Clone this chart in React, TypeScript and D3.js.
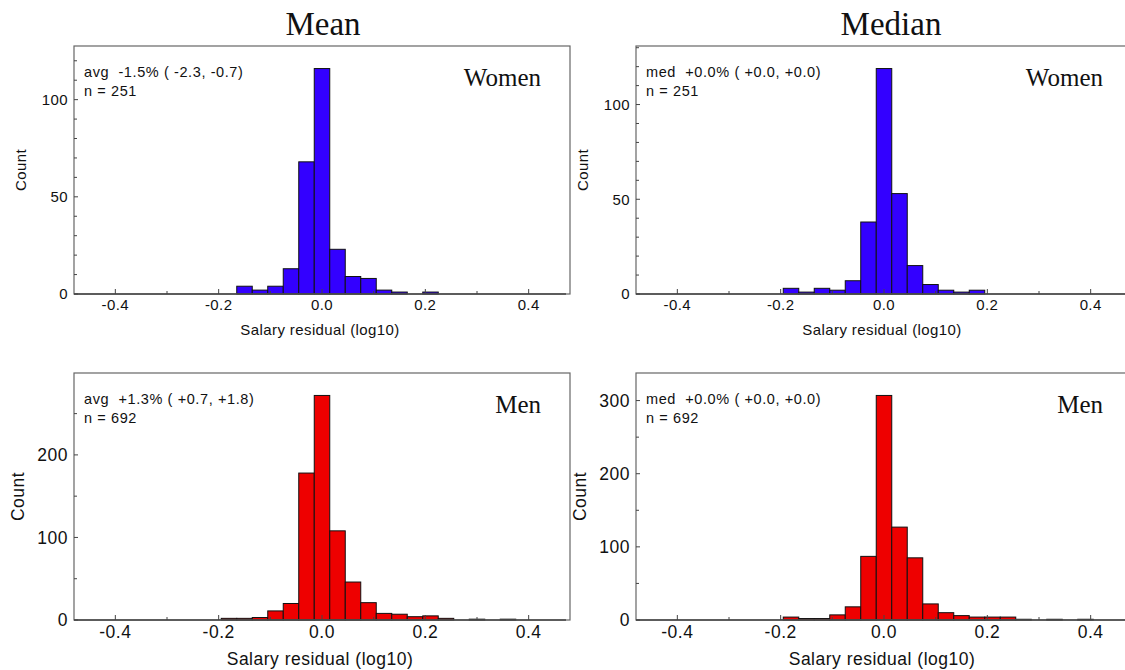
import React from "react";
import * as d3 from "d3";

// ---- data (bin width 0.03, bins centred on multiples of 0.03) ----
const binWidth = 0.03;
const womenMeanStart = -0.15;
const womenMeanCounts = [4, 2, 4, 13, 68, 116, 23, 9, 8, 2, 1, 0, 1];
const womenMedianStart = -0.18;
const womenMedianCounts = [3, 1, 3, 2, 7, 38, 119, 53, 15, 5, 2, 1, 2];
const menMeanStart = -0.18;
const menMeanCounts = [2, 2, 3, 11, 20, 178, 272, 108, 46, 21, 8, 7, 4, 5, 2, 0, 1, 0, 1];
const menMedianStart = -0.18;
const menMedianCounts = [4, 2, 2, 7, 18, 87, 307, 127, 85, 22, 10, 6, 4, 4, 4, 1, 0, 1, 0, 1];

const xTicks = [-0.4, -0.2, 0.0, 0.2, 0.4];
const xTickLabels = ["-0.4", "-0.2", "0.0", "0.2", "0.4"];
const xMinorTicks = [-0.3, -0.1, 0.1, 0.3];
const columnTitles = ["Mean", "Median"];
const groupLabels = ["Women", "Men"];
const statLines = [
  ["avg  -1.5% ( -2.3, -0.7)", "n = 251"],
  ["med  +0.0% ( +0.0, +0.0)", "n = 251"],
  ["avg  +1.3% ( +0.7, +1.8)", "n = 692"],
  ["med  +0.0% ( +0.0, +0.0)", "n = 692"],
];
const womenYTicks = [0, 50, 100];
const menYTicks = [0, 100, 200, 300];

const SANS = "'Liberation Sans', Arial, Helvetica, sans-serif";
const SERIF = "'Liberation Serif', 'Times New Roman', serif";

type PanelSpec = {
  left: number;
  top: number;
  start: number;
  counts: number[];
  color: string;
  label: string;
  stats: string[];
  yTicks: number[];
  yMinorStep: number;
  big: boolean;
};

const W = 496;

function Panel({ p }: { p: PanelSpec }) {
  const h = p.big ? 247 : 248;
  const x = d3.scaleLinear().domain([-0.48, 0.48]).range([p.left, p.left + W]);
  const ymax = (d3.max(p.counts) as number) * 1.1;
  const y = d3.scaleLinear().domain([0, ymax]).range([p.top + h, p.top]);
  const bottom = p.top + h;
  const major = p.yTicks.filter((v) => v <= ymax);
  const minor = d3.range(0, ymax, p.yMinorStep).filter((v) => !p.yTicks.includes(v));
  const tickFs = p.big ? 17.5 : 15;
  const titleFs = p.big ? 17.5 : 15;
  const ls = p.big ? 0.5 : 0.4;
  const frameColor = "#666";
  return (
    <g>
      {p.counts.map((c, i) => {
        if (c <= 0) return null;
        const c0 = p.start + i * binWidth;
        const x0 = x(c0 - binWidth / 2);
        const x1 = x(c0 + binWidth / 2);
        return (
          <rect
            key={i}
            x={x0}
            y={y(c)}
            width={x1 - x0}
            height={bottom - y(c)}
            fill={p.color}
            stroke="#111"
            strokeWidth={1}
          />
        );
      })}
      <rect x={p.left} y={p.top} width={W} height={h} fill="none" stroke={frameColor} strokeWidth={1.2} />
      <line x1={p.left} x2={p.left + W - 4} y1={bottom} y2={bottom} stroke="#444" strokeWidth={1.5} />
      {xTicks.map((t, i) => (
        <g key={"xt" + i}>
          <line x1={x(t)} x2={x(t)} y1={bottom} y2={bottom - 5} stroke="#444" />
          <text
            x={x(t)}
            y={bottom + (p.big ? 18 : 16)}
            textAnchor="middle"
            fontFamily={SANS}
            fontSize={tickFs}
            letterSpacing={ls}
            fill="#111"
          >
            {xTickLabels[i]}
          </text>
        </g>
      ))}
      {xMinorTicks.map((t, i) => (
        <line key={"xm" + i} x1={x(t)} x2={x(t)} y1={bottom} y2={bottom - 3} stroke="#444" />
      ))}
      {major.map((t, i) => (
        <g key={"yt" + i}>
          <line x1={p.left} x2={p.left + 4} y1={y(t)} y2={y(t)} stroke="#444" />
          <text
            x={p.left - 6}
            y={y(t)}
            dy="0.36em"
            textAnchor="end"
            fontFamily={SANS}
            fontSize={tickFs}
            letterSpacing={ls}
            fill="#111"
          >
            {t}
          </text>
        </g>
      ))}
      {minor.map((t, i) => (
        <line key={"ym" + i} x1={p.left} x2={p.left + 3} y1={y(t)} y2={y(t)} stroke="#444" />
      ))}
      <text
        x={p.left + W / 2 - 2}
        y={bottom + (p.big ? 45 : 41)}
        textAnchor="middle"
        fontFamily={SANS}
        fontSize={titleFs}
        letterSpacing={ls}
        fill="#111"
      >
        Salary residual (log10)
      </text>
      <text
        transform={`translate(${p.left - (p.big ? 50 : 48)},${p.top + h / 2}) rotate(-90)`}
        textAnchor="middle"
        fontFamily={SANS}
        fontSize={titleFs}
        letterSpacing={ls}
        fill="#111"
      >
        Count
      </text>
      <text x={p.left + 10} y={p.top + 31} fontFamily={SANS} fontSize={14.5} letterSpacing={0.6} fill="#111" style={{ whiteSpace: "pre" }}>
        {p.stats[0]}
      </text>
      <text x={p.left + 10} y={p.top + 50} fontFamily={SANS} fontSize={14.5} letterSpacing={0.6} fill="#111">
        {p.stats[1]}
      </text>
      <text
        x={p.left + 467}
        y={p.top + 40}
        textAnchor="end"
        fontFamily={SERIF}
        fontSize={25}
        fill="#111"
      >
        {p.label}
      </text>
    </g>
  );
}

export default function App() {
  const blue = "#3300ff";
  const red = "#ee0000";
  const panels: PanelSpec[] = [
    { left: 74, top: 46, start: womenMeanStart, counts: womenMeanCounts, color: blue, label: groupLabels[0], stats: statLines[0], yTicks: womenYTicks, yMinorStep: 10, big: false },
    { left: 636, top: 46, start: womenMedianStart, counts: womenMedianCounts, color: blue, label: groupLabels[0], stats: statLines[1], yTicks: womenYTicks, yMinorStep: 10, big: false },
    { left: 74, top: 373, start: menMeanStart, counts: menMeanCounts, color: red, label: groupLabels[1], stats: statLines[2], yTicks: menYTicks, yMinorStep: 50, big: true },
    { left: 636, top: 373, start: menMedianStart, counts: menMedianCounts, color: red, label: groupLabels[1], stats: statLines[3], yTicks: menYTicks, yMinorStep: 50, big: true },
  ];
  return (
    <svg
      width={1125}
      height={670}
      style={{ position: "absolute", left: 0, top: 0, background: "#fff", overflow: "hidden" }}
    >
      <rect x={0} y={0} width={1125} height={670} fill="#fff" />
      <text x={323} y={35} textAnchor="middle" fontFamily={SERIF} fontSize={33} fill="#111">
        {columnTitles[0]}
      </text>
      <text x={891} y={35} textAnchor="middle" fontFamily={SERIF} fontSize={33} fill="#111">
        {columnTitles[1]}
      </text>
      {panels.map((p, i) => (
        <Panel key={i} p={p} />
      ))}
    </svg>
  );
}
